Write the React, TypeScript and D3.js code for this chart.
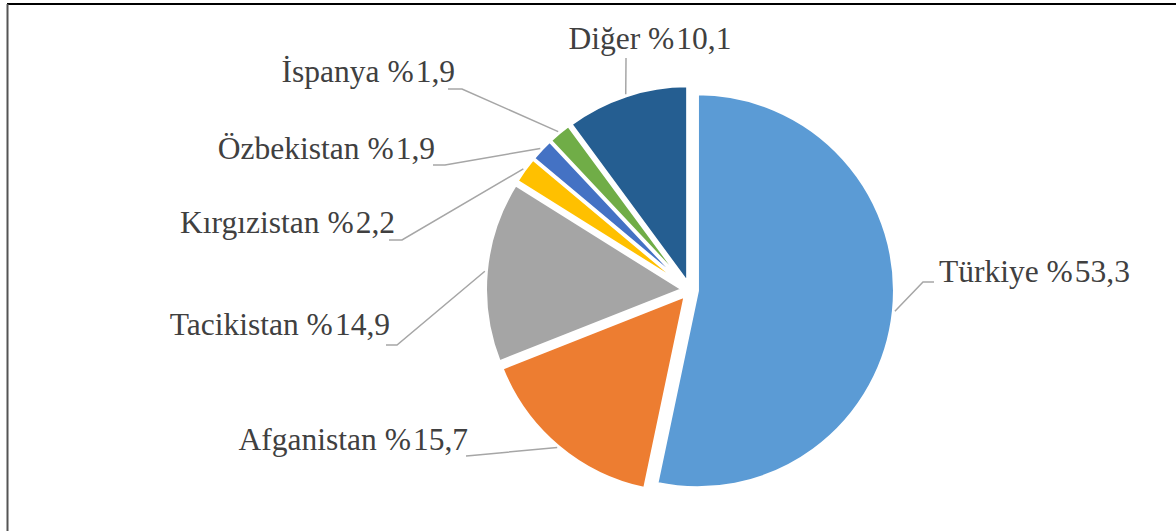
import React from "react";
import * as d3 from "d3";

const categories = ["Türkiye", "Afganistan", "Tacikistan", "Kırgızistan", "Özbekistan", "İspanya", "Diğer"];
const shares = [53.3, 15.7, 14.9, 2.2, 1.9, 1.9, 10.1];
const shareLabels = ["53,3", "15,7", "14,9", "2,2", "1,9", "1,9", "10,1"];
const colors = ["#5B9BD5", "#ED7D31", "#A5A5A5", "#FFC000", "#4472C4", "#70AD47", "#255E91"];

// label layout (text anchor point, elbow, end of leader)
const labelLayout = [
  { x: 939, y: 282, anchor: "start", elbow: [923, 282], end: [934, 282] },
  { x: 468, y: 450, anchor: "end", elbow: [472, 455.5], end: [466, 456] },
  { x: 390, y: 335, anchor: "end", elbow: [397, 345], end: [386, 345] },
  { x: 395, y: 233, anchor: "end", elbow: [402, 240], end: [389, 240] },
  { x: 435, y: 159, anchor: "end", elbow: [445, 165], end: [433, 165] },
  { x: 455, y: 82, anchor: "end", elbow: [462, 89], end: [448, 89] },
  { x: 650, y: 49, anchor: "middle", elbow: [626, 60], end: [626, 58] },
];

const W = 1176;
const H = 531;
const CX = 690;
const CY = 290;
const R = 197;
const EXPLODE = 7.5;

export default function App() {
  const pie = d3.pie<number>().sort(null).value((d) => d).startAngle(0).endAngle(2 * Math.PI);
  const arcs = pie(shares);
  const arcGen = d3.arc<d3.PieArcDatum<number>>().innerRadius(0).outerRadius(R);

  return (
    <div style={{ position: "fixed", left: 0, top: 0, width: W, height: H, background: "#fff" }}>
      <svg width={W} height={H} style={{ display: "block" }}>
        <rect x={0} y={0} width={W} height={H} fill="#fff" />
        <line x1={7} y1={4} x2={W} y2={4} stroke="#000" strokeWidth={2} />
        <line x1={7.5} y1={4} x2={7.5} y2={H} stroke="#555" strokeWidth={2} />
        {arcs.map((a, i) => {
          const mid = (a.startAngle + a.endAngle) / 2;
          const dx = Math.sin(mid) * EXPLODE;
          const dy = -Math.cos(mid) * EXPLODE;
          return (
            <g key={categories[i]} transform={`translate(${CX + dx},${CY + dy})`}>
              <path d={arcGen(a) || ""} fill={colors[i]} stroke="#fff" strokeWidth={3} strokeLinejoin="round" />
            </g>
          );
        })}
        {arcs.map((a, i) => {
          const mid = (a.startAngle + a.endAngle) / 2;
          const rr = EXPLODE + R + 1.5;
          const sx = CX + Math.sin(mid) * rr;
          const sy = CY - Math.cos(mid) * rr;
          const L = labelLayout[i];
          return (
            <g key={"lbl" + i}>
              <polyline
                points={`${sx},${sy} ${L.elbow[0]},${L.elbow[1]} ${L.end[0]},${L.end[1]}`}
                fill="none"
                stroke="#A6A6A6"
                strokeWidth={1.5}
              />
              <text
                x={L.x}
                y={L.y}
                textAnchor={L.anchor as any}
                fontFamily="'Liberation Serif', 'Times New Roman', serif"
                fontSize={31.5}
                fill="#404040"
              >
                {`${categories[i]} %`}
                <tspan dx={2}>{shareLabels[i]}</tspan>
              </text>
            </g>
          );
        })}
      </svg>
    </div>
  );
}
